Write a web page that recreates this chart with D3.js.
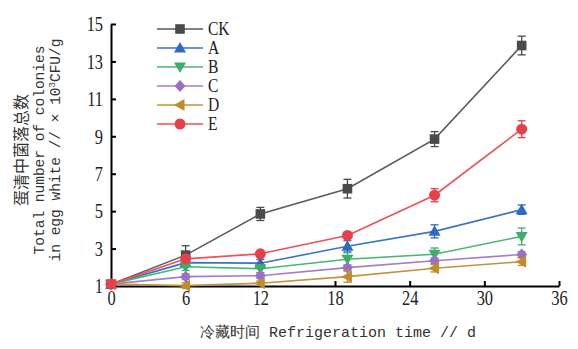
<!DOCTYPE html>
<html>
<head>
<meta charset="utf-8">
<script src="https://cdn.jsdelivr.net/npm/d3@7/dist/d3.min.js"></script>
<style>
  body { margin: 0; background: #fff; }
  svg { display: block; }
</style>
</head>
<body>
<svg id="chart" width="578" height="349"></svg>
<script>
// storage days
const days = [0, 6, 12, 19, 26, 33]
const xTicks = [0, 6, 12, 18, 24, 30, 36]
const yTicks = [1, 3, 5, 7, 9, 11, 13, 15]

const seriesNames = ['CK', 'A', 'B', 'C', 'D', 'E']
const ckValues = [1.1, 2.65, 4.85, 6.2, 8.85, 13.85]
const aValues = [1.1, 2.25, 2.22, 3.12, 3.92, 5.08]
const bValues = [1.1, 2.03, 1.92, 2.43, 2.7, 3.65]
const cValues = [1.1, 1.5, 1.55, 1.98, 2.35, 2.68]
const dValues = [1.1, 1.02, 1.15, 1.5, 1.95, 2.3]
const eValues = [1.1, 2.45, 2.72, 3.7, 5.85, 9.38]

const ckErr = [0.05, 0.5, 0.35, 0.5, 0.4, 0.5]
const aErr = [0.05, 0.2, 0.2, 0.3, 0.35, 0.25]
const bErr = [0.05, 0.2, 0.2, 0.35, 0.33, 0.45]
const cErr = [0.05, 0.15, 0.15, 0.15, 0.15, 0.15]
const dErr = [0.05, 0.15, 0.12, 0.3, 0.2, 0.2]
const eErr = [0.05, 0.1, 0.1, 0.12, 0.35, 0.45]

const colors = ['#4a4a4a', '#2e6bc0', '#3dae6a', '#9b70c2', '#c08c2c', '#e8404a']
const lineColors = ['#5a5a5a', '#3a74c6', '#4bb676', '#a47ec8', '#c4923a', '#ec5058']
const symbols = ['square', 'triUp', 'triDown', 'diamond', 'triLeft', 'circle']

const allValues = [ckValues, aValues, bValues, cValues, dValues, eValues]
const allErr = [ckErr, aErr, bErr, cErr, dErr, eErr]

const series = seriesNames.map((name, i) => ({
  name,
  color: colors[i],
  lineColor: lineColors[i],
  symbol: symbols[i],
  points: days.map((d, j) => ({ day: d, value: allValues[i][j], err: allErr[i][j] }))
}))

const margin = { left: 111, right: 19, top: 24, bottom: 63 }
const width = 578 - margin.left - margin.right
const height = 349 - margin.top - margin.bottom

const svg = d3.select('#chart')
const g = svg.append('g').attr('transform', `translate(${margin.left},${margin.top})`)

const xScale = d3.scaleLinear().domain([0, 36]).range([0, width])
const yScale = d3.scaleLinear().domain([1, 15]).range([height, 0])

const serif = 'Liberation Serif, Times New Roman, serif'
const mono = 'Liberation Mono, monospace'
const cjk = 'Noto Sans CJK SC, sans-serif'
const squeeze = 0.82 // tick labels in the figure are a narrow serif

// axes
const xAxis = d3.axisBottom(xScale).tickValues(xTicks).tickSizeInner(-5).tickSizeOuter(0).tickPadding(9)
const yAxis = d3.axisLeft(yScale).tickValues(yTicks).tickSizeInner(-5).tickSizeOuter(0).tickPadding(7)

const gx = g.append('g').attr('transform', `translate(0,${height})`).call(xAxis)
const gy = g.append('g').call(yAxis)

;[gx, gy].forEach(ax => {
  ax.select('.domain').attr('stroke', '#000').attr('stroke-width', 2)
  ax.selectAll('.tick line').attr('stroke', '#000').attr('stroke-width', 2)
  ax.selectAll('.tick text')
    .attr('fill', '#222')
    .style('font-family', serif)
    .style('font-size', '20px')
})
gx.selectAll('.tick text').attr('y', 5).attr('dy', '0.71em')
  .attr('transform', `scale(${squeeze},1)`)
gy.selectAll('.tick text').attr('x', -8 / squeeze).attr('dy', '0.34em')
  .attr('transform', `scale(${squeeze},1)`)

function drawSymbol (sel, type, color, size) {
  const s = size
  if (type === 'circle') {
    sel.append('circle').attr('r', s * 0.55).attr('fill', color)
  } else if (type === 'square') {
    sel.append('rect').attr('x', -s * 0.48).attr('y', -s * 0.48)
      .attr('width', s * 0.96).attr('height', s * 0.96).attr('fill', color)
  } else {
    const paths = {
      triUp: `M0,${-s * 0.6}L${s * 0.6},${s * 0.45}L${-s * 0.6},${s * 0.45}Z`,
      triDown: `M0,${s * 0.6}L${s * 0.6},${-s * 0.45}L${-s * 0.6},${-s * 0.45}Z`,
      triLeft: `M${-s * 0.6},0L${s * 0.45},${-s * 0.6}L${s * 0.45},${s * 0.6}Z`,
      diamond: `M0,${-s * 0.6}L${s * 0.55},0L0,${s * 0.6}L${-s * 0.55},0Z`
    }
    sel.append('path').attr('d', paths[type]).attr('fill', color)
  }
}

const line = d3.line().x(d => xScale(d.day)).y(d => yScale(d.value))

const plot = g.append('g')
series.forEach(s => {
  const sg = plot.append('g')
  sg.append('path')
    .datum(s.points)
    .attr('d', line)
    .attr('fill', 'none')
    .attr('stroke', s.lineColor)
    .attr('stroke-width', 1.6)

  // error bars
  s.points.forEach(p => {
    const x = xScale(p.day)
    const y1 = yScale(p.value + p.err)
    const y2 = yScale(p.value - p.err)
    const eb = sg.append('g').attr('stroke', s.color).attr('stroke-width', 1.3)
    eb.append('line').attr('x1', x).attr('x2', x).attr('y1', y1).attr('y2', y2)
    eb.append('line').attr('x1', x - 4).attr('x2', x + 4).attr('y1', y1).attr('y2', y1)
    eb.append('line').attr('x1', x - 4).attr('x2', x + 4).attr('y1', y2).attr('y2', y2)
  })

  s.points.forEach(p => {
    const m = sg.append('g').attr('transform', `translate(${xScale(p.day)},${yScale(p.value)})`)
    drawSymbol(m, s.symbol, s.color, 10)
  })
})

// legend
const legend = svg.append('g').attr('transform', 'translate(157,29)')
series.forEach((s, i) => {
  const row = legend.append('g').attr('transform', `translate(0,${i * 19})`)
  row.append('line').attr('x1', 0).attr('x2', 46).attr('y1', 0).attr('y2', 0)
    .attr('stroke', s.lineColor).attr('stroke-width', 1.6)
  const m = row.append('g').attr('transform', 'translate(23,0)')
  drawSymbol(m, s.symbol, s.color, 10)
  row.append('text')
    .attr('x', 51 / squeeze)
    .attr('y', 0)
    .attr('dy', '0.34em')
    .attr('transform', `scale(${squeeze},1)`)
    .attr('fill', '#222')
    .style('font-family', serif)
    .style('font-size', '19px')
    .text(s.name)
})

// x axis title
svg.append('text')
  .attr('x', 338)
  .attr('y', 337)
  .attr('text-anchor', 'middle')
  .attr('fill', '#333')
  .style('font-family', mono)
  .style('font-size', '15px')
  .text('冷藏时间 Refrigeration time // d')

// y axis title, three rotated lines
const yTitle = svg.append('g').attr('transform', 'translate(0,150) rotate(-90)')

yTitle.append('text')
  .attr('x', 0).attr('y', 27)
  .attr('text-anchor', 'middle')
  .attr('fill', '#333')
  .style('font-family', cjk)
  .style('font-size', '16px')
  .text('蛋清中菌落总数')

yTitle.append('text')
  .attr('x', 0).attr('y', 44)
  .attr('text-anchor', 'middle')
  .attr('fill', '#333')
  .style('font-family', mono)
  .style('font-size', '14.5px')
  .text('Total number of colonies')

const l3 = yTitle.append('text')
  .attr('x', 0).attr('y', 60)
  .attr('text-anchor', 'middle')
  .attr('fill', '#333')
  .style('font-family', mono)
  .style('font-size', '14.5px')
l3.append('tspan').text('in egg white // × 10')
l3.append('tspan').attr('dy', -5).style('font-size', '9px').text('3')
l3.append('tspan').attr('dy', 5).text('CFU/g')
</script>
</body>
</html>
